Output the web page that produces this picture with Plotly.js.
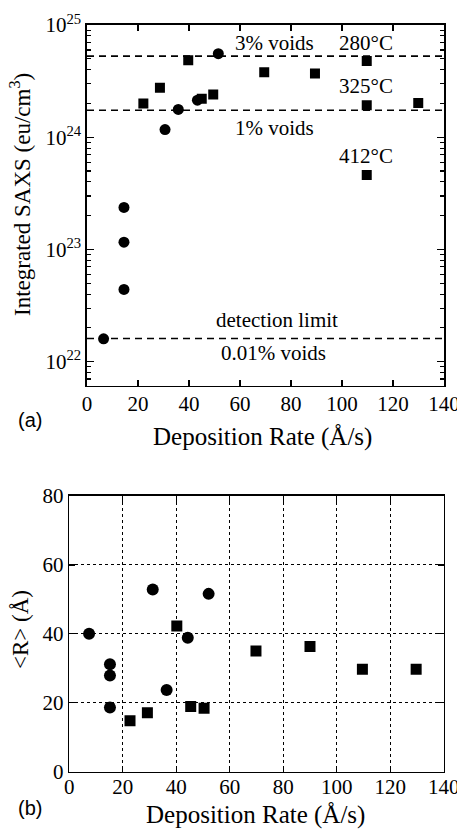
<!DOCTYPE html>
<html>
<head>
<meta charset="utf-8">
<script src="https://cdn.plot.ly/plotly-3.0.1.min.js"></script>
<style>html,body{margin:0;padding:0;background:#fff;}#chart{width:457px;height:829px;}</style>
</head>
<body>
<div id="chart"></div>
<script>
// ---- Data (a): Integrated SAXS vs deposition rate ----
const circleRateA = [6.5, 14.5, 14.5, 14.5, 30.6, 35.8, 43.3, 51.5];
const circleSaxsA = [1.6e22, 2.37e23, 1.16e23, 4.4e22, 1.17e24, 1.77e24, 2.14e24, 5.55e24];
const squareRateA = [22.1, 28.6, 39.7, 45.0, 49.5, 69.5, 89.4, 109.7, 109.7, 109.7, 129.9];
const squareSaxsA = [2.0e24, 2.76e24, 4.84e24, 2.2e24, 2.4e24, 3.8e24, 3.7e24, 4.77e24, 1.93e24, 4.6e23, 2.02e24];
const refLevels = [5.28e24, 1.74e24, 1.61e22];   // 3% voids, 1% voids, detection limit
const refRange = [0, 140];

// ---- Data (b): <R> vs deposition rate ----
const circleRateB = [7.4, 15.2, 15.2, 15.2, 31.2, 36.4, 44.3, 52.1];
const circleRB = [40.0, 31.2, 27.9, 18.6, 52.9, 23.7, 38.9, 51.6];
const squareRateB = [22.7, 29.2, 40.2, 45.4, 50.4, 69.8, 90.0, 109.6, 129.7];
const squareRB = [14.8, 17.1, 42.3, 18.9, 18.4, 35.0, 36.3, 29.7, 29.7];

const xTickVals = [0, 20, 40, 60, 80, 100, 120, 140];
const logTickVals = [1e22, 1e23, 1e24, 1e25];
const logTickText = ['10<sup>22</sup>', '10<sup>23</sup>', '10<sup>24</sup>', '10<sup>25</sup>'];
const linTickVals = [0, 20, 40, 60, 80];

const W = 457, H = 829;
const px = v => v / W;
const py = v => 1 - v / H;

const serif = '"Liberation Serif", "Times New Roman", Times, serif';
const sans = '"Liberation Sans", Arial, Helvetica, sans-serif';

const minorLog = [];
for (let e = 21; e <= 24; e++) for (let m = 2; m <= 9; m++) minorLog.push(m * Math.pow(10, e));

const traces = [];
refLevels.forEach(v => traces.push({
  x: refRange, y: [v, v], xaxis: 'x', yaxis: 'y', mode: 'lines',
  line: {color: '#000', width: 1.6, dash: '7px,5px'}, hoverinfo: 'skip', showlegend: false
}));
traces.push({x: circleRateA, y: circleSaxsA, xaxis: 'x', yaxis: 'y', mode: 'markers',
  marker: {symbol: 'circle', size: 11, color: '#000'}, showlegend: false});
traces.push({x: squareRateA, y: squareSaxsA, xaxis: 'x', yaxis: 'y', mode: 'markers',
  marker: {symbol: 'square', size: 10, color: '#000'}, showlegend: false});
traces.push({x: circleRateB, y: circleRB, xaxis: 'x2', yaxis: 'y2', mode: 'markers',
  marker: {symbol: 'circle', size: 12, color: '#000'}, showlegend: false});
traces.push({x: squareRateB, y: squareRB, xaxis: 'x2', yaxis: 'y2', mode: 'markers',
  marker: {symbol: 'square', size: 11, color: '#000'}, showlegend: false});

const axBase = {
  showline: true, linecolor: '#000', linewidth: 1.6, mirror: 'ticks',
  ticks: 'inside', tickcolor: '#000', ticklen: 6, tickwidth: 1.2,
  zeroline: false, showgrid: false, ticklabeloverflow: 'allow',
  tickfont: {family: serif, size: 21, color: '#000'}
};

const ann = (text, x, y, font, extra) => Object.assign({
  text, xref: 'paper', yref: 'paper', x: px(x), y: py(y),
  xanchor: 'center', yanchor: 'middle', showarrow: false, font
}, extra || {});
const lblFont = {family: serif, size: 21, color: '#000'};

const layout = {
  width: W, height: H,
  margin: {l: 0, r: 0, t: 0, b: 0},
  paper_bgcolor: '#fff', plot_bgcolor: '#fff',
  showlegend: false,
  font: {family: serif, color: '#000'},
  xaxis: Object.assign({}, axBase, {
    domain: [px(87), px(444)], anchor: 'y', range: [0, 140],
    tickvals: xTickVals, ticklabelstandoff: -2
  }),
  yaxis: Object.assign({}, axBase, {
    domain: [py(385.7), py(25)], anchor: 'x', type: 'log', range: [21.786, 25],
    tickvals: logTickVals, ticktext: logTickText, ticklen: 7,
    minor: {tickvals: minorLog, ticks: 'inside', ticklen: 4, tickcolor: '#000', showgrid: false}
  }),
  xaxis2: Object.assign({}, axBase, {
    domain: [px(69.3), px(443.7)], anchor: 'y2', range: [0, 140], ticklabelstandoff: -5,
    tickvals: xTickVals, showgrid: true, gridcolor: '#000', gridwidth: 1, griddash: 'dot'
  }),
  yaxis2: Object.assign({}, axBase, {
    domain: [py(771.7), py(496)], anchor: 'x2', range: [0, 80],
    tickvals: linTickVals, showgrid: true, gridcolor: '#000', gridwidth: 1, griddash: 'dot'
  }),
  annotations: [
    ann('3% voids', 274, 42.7, lblFont),
    ann('280°C', 365.7, 42.7, lblFont),
    ann('325°C', 365.7, 86, lblFont),
    ann('1% voids', 274, 128.3, lblFont),
    ann('412°C', 365.7, 156, lblFont),
    ann('detection limit', 276.7, 320, lblFont),
    ann('0.01% voids', 273.3, 353.3, lblFont),
    ann('(a)', 30, 420, {family: sans, size: 20, color: '#000'}),
    ann('Deposition Rate (Å/s)', 262, 437, {family: serif, size: 25, color: '#000'}),
    ann('Integrated SAXS (eu/cm<sup>3</sup>)', 20, 195, {family: serif, size: 23, color: '#000'}, {textangle: -90}),
    ann('(b)', 30, 808, {family: sans, size: 20, color: '#000'}),
    ann('Deposition Rate (Å/s)', 255, 815, {family: serif, size: 25, color: '#000'}),
    ann('&lt;R&gt; (Å)', 20, 630, {family: serif, size: 23, color: '#000'}, {textangle: -90})
  ]
};

Plotly.newPlot('chart', traces, layout, {staticPlot: true, displayModeBar: false});
</script>
</body>
</html>
